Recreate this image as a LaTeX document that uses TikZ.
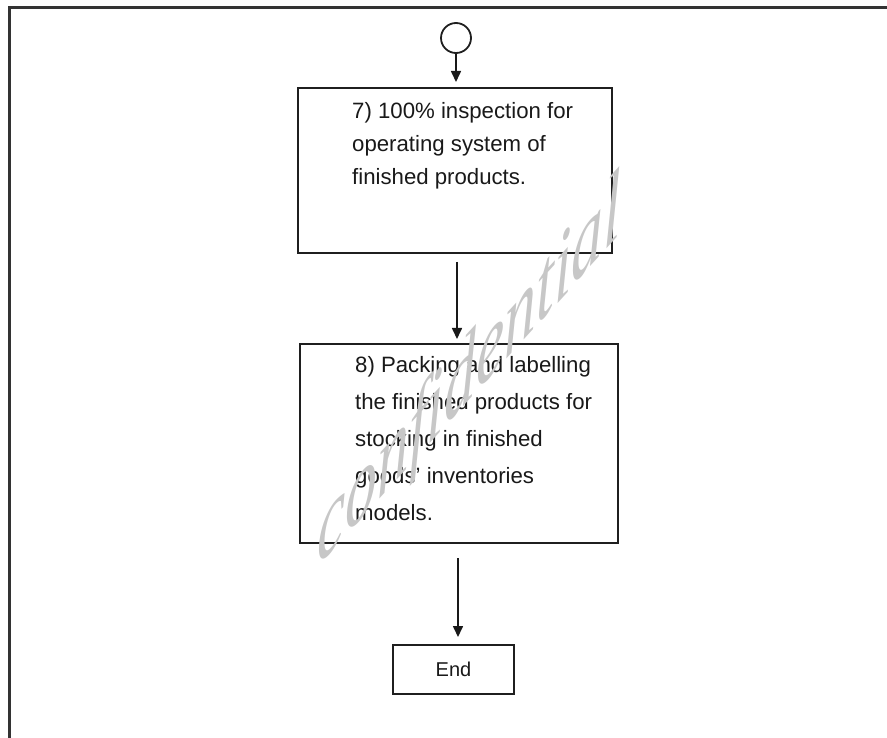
\documentclass[tikz,border=0pt]{standalone}
\usepackage{fontspec}
\setmainfont{Liberation Sans}
\newfontfamily\wmfont{Liberation Serif}
\usetikzlibrary{arrows.meta,calc}
\begin{document}
\begin{tikzpicture}[x=1pt,y=-1pt,
  stepbox/.style={draw=black!88, line width=2pt, inner sep=0pt},
  boxtext/.style={align=left, inner sep=0pt, anchor=north west, text=black!90},
  arr/.style={-{Triangle[width=10pt,length=11pt]}, line width=1.6pt, draw=black!90},
  frameline/.style={line width=2.5pt, draw=black!80}]
  \useasboundingbox (0,0) rectangle (887,738);

  % page frame (left and top edges)
  \draw[frameline] (9.5,760) -- (9.5,7.5) -- (900,7.5);

  % start connector
  \node[circle, draw=black!88, line width=1.8pt, minimum size=30pt, inner sep=0pt] (c) at (456,38) {};

  % step 7
  \node[stepbox, minimum width=314pt, minimum height=165pt] (b1) at (455,170.5) {};
  \node[boxtext, font=\fontsize{22.2}{33}\selectfont] (t1) at ($(b1.north west)+(55,15)$)
    {7) 100\% inspection for\\operating system of\\finished products.};

  % step 8
  \node[stepbox, minimum width=318pt, minimum height=199pt] (b2) at (459,443.5) {};
  \node[boxtext, font=\fontsize{22.2}{37}\selectfont] (t2) at ($(b2.north west)+(56,13)$)
    {8) Packing and labelling\\the finished products for\\stocking in finished\\goods' inventories\\models.};

  % end
  \node[stepbox, minimum width=121pt, minimum height=49pt, font=\fontsize{20}{24}\selectfont, text=black!90] (e) at (453.5,669.5) {End};

  % connector end points
  \coordinate (s2) at (457,253);
  \coordinate (s3) at (458,543);

  % connectors
  \draw[arr, shorten >=5pt] (c.south) -- (c.south |- b1.north);
  \draw[arr, shorten <=9pt, shorten >=4pt] (s2) -- (s2 |- b2.north);
  \draw[arr, shorten <=15pt, shorten >=7pt] (s3) -- (s3 |- e.north);

  % watermark
  \begin{scope}[shift={(317,568)}, yslant=1.10, xscale=0.65, transform shape]
    \node[anchor=base west, inner sep=0pt, text=black!22, font=\wmfont\itshape\fontsize{98}{98}\selectfont] (wm) at (0,0) {confidential};
  \end{scope}
\end{tikzpicture}
\end{document}
